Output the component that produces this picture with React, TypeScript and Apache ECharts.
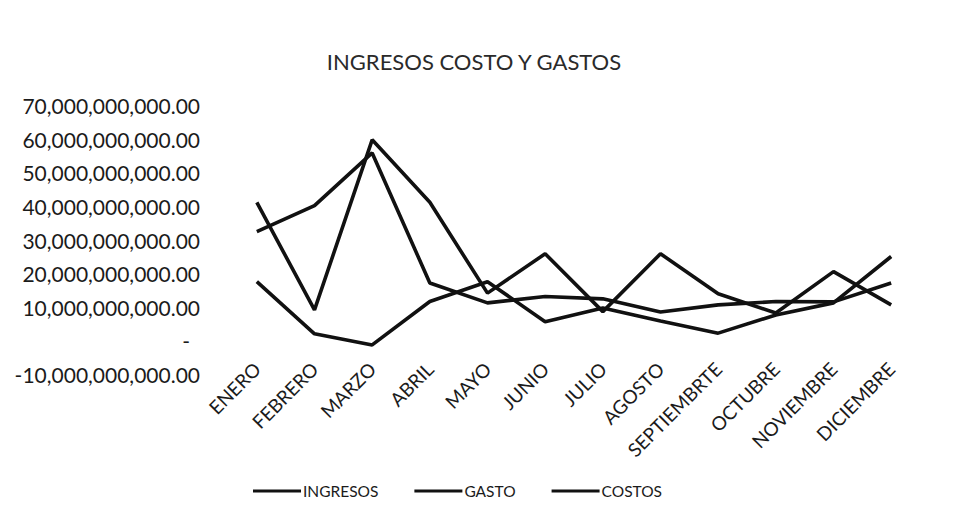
import React, { useEffect, useRef } from "react";
import * as echarts from "echarts";

const months = [
  "ENERO", "FEBRERO", "MARZO", "ABRIL", "MAYO", "JUNIO",
  "JULIO", "AGOSTO", "SEPTIEMBRTE", "OCTUBRE", "NOVIEMBRE", "DICIEMBRE",
];

const ingresos = [
  32.5e9, 40.2e9, 55.9e9, 17.2e9, 11.3e9, 13.2e9,
  12.5e9, 8.6e9, 10.7e9, 11.7e9, 11.6e9, 17.2e9,
];
const gasto = [
  17.6e9, 2.1e9, -1.2e9, 11.7e9, 17.6e9, 5.7e9,
  9.8e9, 5.9e9, 2.3e9, 7.7e9, 11.3e9, 25.1e9,
];
const costos = [
  41.2e9, 9.2e9, 59.8e9, 41.2e9, 14.2e9, 25.9e9,
  8.7e9, 25.9e9, 14.0e9, 8.3e9, 20.6e9, 10.7e9,
];

const yMin = -10e9;
const yMax = 70e9;
const yStep = 10e9;

const FONT = "Lato";
const INK = "#1b1b1b";

function fmt(v: number): string {
  const s = Math.abs(v)
    .toFixed(2)
    .replace(/\B(?=(\d{3})+(?!\d))/g, ",");
  return (v < 0 ? "-" : "") + s;
}

export default function App() {
  const ref = useRef<HTMLDivElement>(null);

  useEffect(() => {
    if (!ref.current) return;
    const chart = echarts.init(ref.current, null, { renderer: "svg" });
    const lineStyle = { color: "#111", width: 3.6 };
    chart.setOption({
      animation: false,
      backgroundColor: "#ffffff",
      title: {
        text: "INGRESOS COSTO Y GASTOS",
        left: 469,
        textAlign: "center",
        top: 45,
        textStyle: {
          fontFamily: FONT,
          fontSize: 22,
          fontWeight: "normal",
          color: "#2a2a2a",
        },
      },
      grid: { left: 228, right: 34, top: 105.5, bottom: 141.5 },
      xAxis: {
        type: "category",
        data: months,
        boundaryGap: true,
        axisLine: { show: false },
        axisTick: { show: false },
        splitLine: { show: false },
        axisLabel: {
          interval: 0,
          rotate: 45,
          margin: -9,
          fontFamily: FONT,
          fontSize: 19,
          color: INK,
        },
      },
      yAxis: {
        type: "value",
        min: yMin,
        max: yMax,
        interval: yStep,
        axisLine: { show: false },
        axisTick: { show: false },
        splitLine: { show: false },
        axisLabel: {
          margin: 28,
          fontFamily: FONT,
          fontSize: 21,
          color: INK,
          formatter: (v: number) => (v === 0 ? "{z|-}" : fmt(v)),
          rich: {
            z: {
              fontFamily: FONT,
              fontSize: 21,
              color: INK,
              padding: [0, 10, 0, 0],
            },
          },
        },
      },
      legend: {
        bottom: 12,
        left: 248,
        itemWidth: 48,
        itemHeight: 3,
        itemGap: 36,
        icon: "rect",
        textStyle: {
          fontFamily: FONT,
          fontSize: 15.5,
          color: INK,
          padding: [0, 0, 0, -3],
        },
        data: ["INGRESOS", "GASTO", "COSTOS"],
      },
      series: [
        {
          name: "INGRESOS",
          type: "line",
          data: ingresos,
          showSymbol: false,
          symbol: "none",
          lineStyle,
          itemStyle: { color: "#111" },
        },
        {
          name: "GASTO",
          type: "line",
          data: gasto,
          showSymbol: false,
          symbol: "none",
          lineStyle,
          itemStyle: { color: "#111" },
        },
        {
          name: "COSTOS",
          type: "line",
          data: costos,
          showSymbol: false,
          symbol: "none",
          lineStyle,
          itemStyle: { color: "#111" },
        },
      ],
    });
    return () => chart.dispose();
  }, []);

  return (
    <div
      ref={ref}
      style={{ width: 954, height: 516, position: "absolute", left: 0, top: 0 }}
    />
  );
}
